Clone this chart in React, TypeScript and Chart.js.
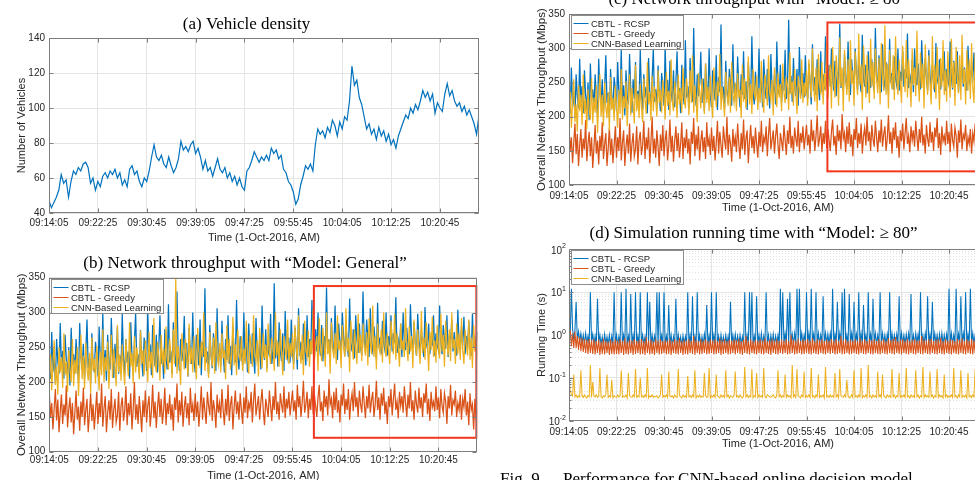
import React, { useEffect, useRef } from 'react';
import { Chart, registerables } from 'chart.js';
Chart.register(...registerables);

// ---------------- DATA ----------------
const VEHICLE_STEP_S = 25;
const FLOW_STEP_S = 12.5;
const TIME_SPAN_S = 4400;
const TIME_TICK_SECONDS = [0, 500, 1000, 1500, 2000, 2500, 3000, 3500, 4000];
const TIME_TICK_LABELS = ['09:14:05', '09:22:25', '09:30:45', '09:39:05', '09:47:25', '09:55:45', '10:04:05', '10:12:25', '10:20:45'];
const X_AXIS_TITLE = 'Time (1-Oct-2016, AM)';
const SERIES_LABELS = ['CBTL - RCSP', 'CBTL - Greedy', 'CNN-Based Learning'];

const VEHICLE_Y_TICKS = [40, 60, 80, 100, 120, 140];
const THROUGHPUT_Y_TICKS = [100, 150, 200, 250, 300, 350];
const RUNTIME_Y_TICKS = [0.01, 0.1, 1, 10, 100];
const RUNTIME_Y_EXPONENTS = ['-2', '-1', '0', '1', '2'];

const HIGHLIGHT_T = [2720, 4390];
const HIGHLIGHT_Y = [120, 338];

const VEHICLE_COUNT = [
  47, 43, 46, 49, 53, 62, 57, 59, 49, 58,
  64, 62, 66, 64, 68, 69, 66, 57, 60, 53,
  58, 55, 61, 63, 60, 64, 62, 65, 60, 63,
  56, 59, 55, 65, 67, 62, 64, 58, 55, 60,
  58, 64, 72, 79, 72, 70, 73, 68, 66, 72,
  67, 63, 66, 71, 81, 76, 78, 75, 79, 81,
  74, 77, 72, 65, 70, 64, 66, 61, 66, 71,
  65, 63, 66, 60, 63, 58, 61, 56, 60, 55,
  53, 64, 66, 70, 75, 72, 69, 72, 70, 73,
  70, 77, 74, 76, 71, 73, 65, 63, 58, 56,
  52, 45, 48, 56, 61, 67, 65, 68, 64, 79,
  88, 85, 87, 83, 89, 86, 93, 90, 84, 92,
  88, 95, 93, 104, 124, 113, 116, 106, 102, 95,
  88, 91, 85, 88, 82, 89, 84, 87, 81, 85,
  79, 82, 77, 84, 88, 92, 96, 94, 100, 97,
  102, 99, 104, 110, 106, 109, 104, 108, 97, 103,
  100, 98, 108, 114, 107, 110, 104, 101, 103, 98,
  101, 96, 99, 95, 91, 85, 96,
];

const THROUGHPUT_RCSP = [
  225, 205, 272, 215, 238, 198, 262, 230, 212, 285, 220, 245, 205, 268, 232, 210, 250, 195, 278, 225,
  240, 212, 262, 228, 200, 285, 236, 218, 255, 205, 242, 290, 220, 235, 198, 270, 228, 214, 258, 240,
  208, 280, 232, 222, 300, 214, 246, 202, 268, 230, 218, 292, 240, 206, 255, 226, 280, 212, 238, 220,
  298, 234, 210, 262, 228, 244, 205, 286, 236, 218, 256, 300, 222, 240, 212, 275, 232, 208, 264, 246,
  216, 302, 230, 254, 210, 282, 238, 222, 268, 214, 250, 296, 226, 242, 205, 276, 234, 218, 312, 228,
  245, 212, 286, 236, 222, 330, 240, 216, 262, 230, 248, 295, 220, 256, 208, 278, 242, 226, 300, 232,
  214, 268, 246, 224, 290, 210, 258, 236, 335, 228, 244, 212, 282, 238, 220, 270, 250, 216, 306, 234,
  248, 222, 288, 240, 214, 262, 232, 296, 226, 252, 210, 280, 244, 228, 318, 236, 218, 266, 242, 224,
  300, 230, 256, 214, 284, 246, 226, 270, 238, 212, 292, 240, 228, 262, 218, 310, 244, 232, 276, 220,
  254, 238, 298, 226, 246, 342, 234, 260, 222, 286, 244, 230, 270, 216, 302, 248, 236, 264, 228, 290,
  242, 226, 278, 252, 218, 306, 238, 258, 232, 284, 246, 224, 296, 236, 262, 240, 318, 250, 234, 276,
  244, 300, 256, 238, 282, 230, 266, 248, 336, 242, 262, 236, 292, 254, 240, 310, 250, 232, 284, 258,
  246, 300, 264, 238, 288, 252, 236, 320, 256, 244, 276, 234, 296, 260, 242, 284, 250, 238, 330, 258,
  248, 290, 262, 236, 306, 254, 244, 280, 258, 234, 314, 250, 264, 240, 288, 256, 246, 300, 238, 266,
  252, 296, 244, 270, 256, 322, 242, 260, 248, 284, 236, 300, 258, 246, 278, 252, 240, 312, 262, 248,
  286, 254, 238, 298, 260, 244, 276, 250, 236, 308, 256, 248, 284, 240, 264, 252, 296, 238, 270, 254,
  246, 310, 258, 240, 282, 262, 248, 296, 236, 268, 254, 290, 244, 272, 250, 238, 304, 256, 246, 280,
  252, 294, 240, 266, 248, 288, 256, 238, 298, 250, 262, 244, 272,
];

const THROUGHPUT_GREEDY = [
  185, 150, 170, 132, 162, 190, 145, 175, 128, 158, 182, 140, 168, 152, 195, 135, 160, 178, 142, 170,
  125, 155, 188, 146, 165, 130, 172, 150, 192, 138, 160, 176, 128, 154, 184, 144, 168, 132, 158, 186,
  140, 170, 150, 198, 136, 162, 180, 128, 156, 174, 146, 190, 134, 160, 176, 142, 152, 186, 130, 166,
  178, 144, 158, 194, 138, 170, 152, 184, 132, 162, 200, 146, 168, 140, 180, 156, 128, 174, 150, 188,
  142, 166, 180, 136, 158, 196, 148, 172, 134, 164, 186, 150, 176, 140, 160, 192, 138, 170, 154, 182,
  146, 168, 130, 178, 160, 198, 142, 174, 152, 186, 136, 164, 180, 148, 170, 138, 192, 156, 168, 144,
  184, 150, 172, 136, 162, 194, 146, 178, 158, 140, 186, 166, 152, 200, 144, 174, 160, 134, 182, 156,
  170, 148, 190, 160, 138, 176, 152, 196, 144, 168, 180, 132, 164, 188, 154, 172, 146, 184, 160, 140,
  178, 156, 194, 148, 170, 162, 186, 142, 174, 198, 152, 166, 180, 146, 172, 190, 158, 138, 176, 164,
  150, 188, 166, 144, 180, 160, 200, 154, 172, 146, 184, 168, 156, 194, 148, 176, 162, 186, 152, 170,
  188, 158, 174, 146, 196, 164, 180, 150, 172, 202, 156, 168, 186, 148, 176, 160, 194, 154, 182, 166,
  150, 178, 196, 158, 172, 144, 188, 164, 180, 152, 204, 168, 176, 148, 186, 160, 192, 156, 174, 142,
  182, 166, 198, 154, 176, 160, 190, 146, 172, 184, 158, 200, 164, 178, 150, 188, 168, 156, 194, 170,
  148, 180, 162, 196, 156, 174, 186, 150, 168, 202, 160, 178, 146, 184, 166, 192, 154, 172, 140, 180,
  164, 190, 152, 176, 198, 160, 172, 148, 186, 166, 180, 156, 194, 170, 150, 182, 162, 200, 158, 174,
  146, 188, 168, 156, 192, 162, 178, 150, 184, 170, 198, 154, 176, 144, 186, 164, 172, 158, 194, 160,
  178, 148, 190, 166, 156, 184, 172, 140, 180, 162, 196, 152, 174, 168, 188, 150, 170, 160, 182, 146,
  176, 164, 190, 152, 172, 138, 184, 160, 168, 132, 176, 150, 158,
];

const THROUGHPUT_CNN_GENERAL = [
  205, 240, 188, 228, 260, 196, 222, 182, 250, 214, 236, 192, 270, 210, 230, 186, 246, 218, 200, 262,
  194, 232, 212, 250, 180, 226, 268, 204, 238, 190, 256, 220, 202, 242, 184, 264, 216, 234, 198, 252,
  222, 188, 244, 210, 276, 200, 236, 216, 258, 190, 230, 268, 206, 248, 224, 194, 282, 214, 240, 202,
  254, 218, 196, 262, 230, 208, 286, 222, 242, 198, 266, 214, 250, 232, 204, 274, 226, 246, 210, 260,
  236, 200, 272, 220, 244, 206, 292, 228, 214, 258, 238, 202, 268, 224, 248, 212, 280, 234, 218, 262,
  240, 206, 276, 226, 350, 212, 252, 230, 196, 270, 244, 218, 262, 236, 208, 284, 226, 250, 214, 266,
  232, 204, 278, 244, 220, 258, 236, 300, 216, 250, 228, 206, 272, 240, 222, 264, 212, 286, 238, 226,
  256, 214, 270, 234, 246, 204, 282, 228, 262, 218, 240, 294, 224, 254, 210, 276, 242, 230, 266, 216,
  248, 226, 288, 236, 212, 268, 250, 222, 296, 240, 230, 260, 208, 278, 246, 220, 270, 234, 254, 214,
  284, 242, 226, 264, 252, 216, 300, 238, 258, 222, 276, 244, 210, 266, 248, 232, 290, 226, 256, 236,
  270, 218, 282, 250, 232, 296, 244, 226, 268, 210, 288, 246, 236, 274, 222, 260, 240, 304, 230, 254,
  266, 216, 292, 248, 230, 278, 256, 222, 300, 240, 262, 212, 286, 250, 234, 270, 226, 296, 246, 260,
  220, 282, 252, 236, 306, 244, 264, 214, 288, 258, 232, 276, 248, 226, 298, 242, 268, 230, 284, 252,
  238, 272, 224, 292, 256, 240, 310, 236, 266, 218, 284, 250, 242, 276, 228, 300, 254, 236, 270, 246,
  226, 288, 262, 240, 298, 232, 270, 250, 222, 284, 246, 260, 236, 306, 252, 230, 280, 244, 266, 220,
  290, 256, 238, 276, 248, 226, 302, 242, 264, 232, 286, 254, 216, 272, 246, 294, 236, 260, 228, 282,
  250, 234, 298, 244, 268, 222, 288, 256, 238, 276, 230, 300, 248, 262, 226, 284, 240, 270, 232, 292,
  246, 226, 276, 254, 238, 290, 232, 264, 220, 282, 244, 258, 236,
];

const THROUGHPUT_CNN_80 = [
  198, 236, 184, 222, 255, 192, 218, 178, 246, 208, 232, 188, 262, 204, 226, 182, 240, 212, 196, 256,
  190, 228, 206, 246, 176, 220, 262, 200, 232, 186, 250, 214, 198, 236, 180, 258, 210, 228, 194, 246,
  216, 184, 240, 204, 270, 196, 230, 212, 252, 186, 226, 262, 202, 242, 218, 190, 276, 208, 234, 198,
  248, 214, 192, 256, 224, 204, 280, 218, 236, 194, 260, 208, 244, 226, 200, 268, 220, 240, 206, 254,
  230, 196, 266, 216, 238, 202, 284, 222, 208, 252, 232, 198, 262, 218, 242, 206, 272, 228, 212, 256,
  234, 202, 268, 220, 290, 206, 246, 224, 192, 264, 238, 212, 256, 230, 204, 278, 220, 244, 208, 260,
  226, 198, 272, 238, 214, 252, 230, 292, 210, 244, 222, 200, 266, 234, 216, 258, 206, 280, 232, 220,
  250, 208, 264, 228, 240, 198, 276, 222, 256, 212, 234, 288, 218, 248, 204, 270, 236, 224, 260, 210,
  242, 220, 282, 230, 206, 262, 244, 216, 290, 234, 224, 254, 202, 272, 240, 214, 264, 228, 248, 208,
  278, 236, 220, 258, 246, 210, 294, 232, 252, 216, 270, 238, 204, 260, 242, 226, 284, 220, 250, 230,
  268, 216, 284, 252, 228, 300, 246, 222, 272, 208, 292, 248, 232, 280, 218, 264, 238, 310, 226, 256,
  276, 212, 302, 254, 228, 290, 262, 216, 316, 244, 272, 208, 298, 256, 232, 284, 222, 312, 248, 268,
  216, 296, 258, 232, 322, 246, 276, 210, 304, 264, 228, 290, 250, 220, 314, 244, 280, 226, 300, 256,
  234, 286, 218, 308, 262, 238, 334, 232, 278, 212, 298, 254, 240, 290, 224, 318, 258, 232, 284, 248,
  220, 304, 268, 236, 312, 228, 284, 252, 214, 300, 246, 272, 230, 326, 256, 222, 294, 242, 278, 212,
  306, 260, 232, 290, 250, 218, 318, 240, 276, 226, 302, 256, 210, 286, 244, 312, 232, 268, 222, 296,
  254, 228, 314, 242, 280, 216, 302, 258, 234, 290, 224, 320, 248, 270, 218, 298, 238, 284, 226, 308,
  244, 220, 292, 256, 232, 306, 228, 276, 214, 298, 240, 266, 230,
];

const RUNTIME_RCSP = [
  1.5, 0.9, 12, 1.4, 0.8, 1.3, 6, 0.75, 1.2, 0.7, 1.1, 0.65, 1.0, 0.6, 1.1, 0.65, 0.95, 0.6, 10, 0.7,
  1.05, 0.6, 0.95, 0.55, 7, 0.65, 1.0, 0.6, 0.9, 0.55, 1.05, 0.62, 0.9, 0.58, 1.0, 0.55, 0.95, 0.6, 10, 0.58,
  1.0, 0.55, 0.92, 0.6, 10, 0.56, 1.0, 0.62, 12, 0.58, 0.95, 0.55, 9, 0.6, 1.0, 0.56, 10, 0.6, 0.95, 0.55,
  10, 0.58, 1.0, 0.6, 0.92, 0.55, 10, 0.62, 6, 0.56, 1.0, 0.58, 0.95, 0.6, 10, 0.55, 10, 0.62, 0.98, 0.58,
  10, 0.56, 0.95, 0.6, 5, 0.58, 1.0, 0.55, 0.92, 0.6, 7, 0.56, 1.02, 0.6, 0.9, 0.55, 0.98, 0.62, 0.92, 0.58,
  10, 0.6, 1.0, 0.56, 8, 0.6, 0.95, 0.58, 10, 0.62, 1.0, 0.56, 0.92, 0.6, 1.05, 0.58, 5, 0.6, 0.98, 0.55,
  10, 0.62, 1.0, 0.58, 10, 0.6, 0.95, 0.56, 1.02, 0.6, 0.9, 0.58, 1.0, 0.6, 0.95, 0.56, 6, 0.62, 1.0, 0.58,
  1.05, 0.6, 0.95, 0.58, 1.0, 0.62, 0.92, 0.56, 10, 0.6, 1.0, 0.58, 10, 0.62, 10, 0.6, 0.95, 0.58, 8, 0.62,
  1.0, 0.6, 1.1, 0.58, 0.95, 0.62, 10, 0.6, 1.0, 0.56, 0.98, 0.6, 1.05, 0.58, 0.95, 0.62, 1.0, 0.58, 12, 0.62,
  10, 0.65, 1.1, 0.6, 7, 0.62, 10, 0.64, 1.05, 0.6, 1.1, 0.62, 12, 0.6, 12, 0.64, 1.1, 0.6, 1.0, 0.65,
  10, 0.62, 1.1, 0.6, 12, 0.64, 1.05, 0.6, 10, 0.62, 1.1, 0.6, 1.0, 0.64, 8, 0.6, 1.1, 0.62, 1.05, 0.6,
  1.1, 0.62, 12, 0.6, 1.05, 0.64, 6, 0.6, 1.1, 0.62, 10, 0.6, 12, 0.64, 1.0, 0.6, 9, 0.62, 1.1, 0.6,
  6, 0.64, 1.05, 0.6, 10, 0.62, 1.1, 0.6, 5, 0.64, 1.0, 0.6, 10, 0.62, 1.05, 0.6, 7, 0.64, 1.1, 0.6,
  1.0, 0.62, 10, 0.6, 1.1, 0.64, 1.0, 0.6, 1.05, 0.62, 10, 0.6, 1.1, 0.64, 1.0, 0.6, 1.05, 0.62, 8, 0.6,
  1.1, 0.62, 1.0, 0.6, 1.05, 0.64, 1.1, 0.6, 9, 0.62, 1.0, 0.6, 1.1, 0.64, 1.05, 0.6, 10, 0.62, 1.0, 0.6,
  1.1, 0.64, 8, 0.6, 1.05, 0.62, 6, 0.6, 1.1, 0.64, 1.0, 0.6, 1.05, 0.62, 1.1, 0.6, 1.0, 0.64, 1.05, 0.6,
  12, 0.62, 1.1, 0.6, 1.0, 0.64, 12, 0.6, 1.05, 0.62, 8, 0.6, 1.1, 0.64, 10, 0.6, 1.05, 0.62, 12, 0.6,
  1.1, 0.64, 1.0, 0.6, 1.05, 0.62, 1.1, 0.6, 1.0, 0.64, 1.05, 0.6, 1.1,
];

const RUNTIME_GREEDY = [
  0.75, 1.3, 0.55, 1.1, 0.5, 1.2, 0.5, 0.95, 0.45, 0.9, 0.42, 0.85, 0.4, 0.8, 0.38, 0.78, 0.36, 0.8, 0.38, 0.75,
  0.36, 0.8, 0.35, 0.72, 0.38, 0.78, 0.34, 0.7, 0.36, 0.82, 0.35, 0.74, 0.38, 0.7, 0.34, 0.78, 0.36, 0.72, 0.35, 0.8,
  0.36, 0.74, 0.35, 0.8, 0.38, 0.72, 0.34, 0.85, 0.36, 0.7, 0.35, 0.78, 0.38, 0.74, 0.34, 0.8, 0.36, 0.72, 0.38, 0.76,
  0.35, 0.8, 0.36, 0.72, 0.34, 0.9, 0.38, 0.74, 0.35, 0.78, 0.36, 0.7, 0.34, 0.82, 0.38, 0.74, 0.35, 0.8, 0.36, 0.72,
  0.38, 0.78, 0.35, 0.74, 0.36, 0.82, 0.34, 0.72, 0.38, 0.8, 0.36, 0.74, 0.35, 0.86, 0.38, 0.72, 0.34, 0.78, 0.36, 0.74,
  0.35, 0.8, 0.38, 0.72, 0.36, 0.95, 0.34, 0.76, 0.38, 0.72, 0.35, 0.8, 0.36, 0.74, 0.38, 0.82, 0.35, 0.72, 0.36, 0.78,
  0.38, 0.74, 0.35, 0.8, 0.36, 0.72, 0.38, 0.85, 0.34, 0.76, 0.36, 0.8, 0.38, 0.72, 0.35, 0.78, 0.36, 0.74, 0.38, 0.8,
  0.35, 0.76, 0.38, 0.82, 0.36, 0.72, 0.34, 0.78, 0.38, 0.95, 0.36, 0.74, 0.35, 0.8, 0.38, 0.72, 0.36, 0.78, 0.35, 0.74,
  0.38, 0.8, 0.36, 0.74, 0.35, 0.86, 0.38, 0.72, 0.36, 0.78, 0.34, 0.82, 0.38, 0.74, 0.36, 0.8, 0.35, 0.72, 0.38, 0.78,
  0.36, 0.74, 0.38, 0.8, 0.35, 0.72, 0.36, 1.0, 0.38, 0.78, 0.35, 0.74, 0.36, 0.82, 0.38, 0.72, 0.35, 0.8, 0.36, 0.76,
  0.38, 0.8, 0.36, 0.74, 0.35, 0.85, 0.38, 0.72, 0.36, 0.8, 0.35, 0.76, 0.38, 0.82, 0.36, 0.72, 0.35, 0.78, 0.38, 0.74,
  0.36, 0.8, 0.38, 0.74, 0.35, 0.82, 0.36, 0.72, 0.38, 0.95, 0.35, 0.76, 0.36, 0.8, 0.38, 0.72, 0.35, 0.78, 0.36, 0.74,
  0.38, 0.8, 0.36, 0.72, 0.35, 0.86, 0.38, 0.74, 0.36, 0.8, 0.35, 0.72, 0.38, 0.82, 0.36, 0.76, 0.35, 0.8, 0.38, 0.72,
  0.36, 0.82, 0.35, 0.74, 0.38, 0.8, 0.36, 0.72, 0.35, 0.85, 0.38, 0.76, 0.36, 0.8, 0.35, 0.9, 0.38, 0.72, 0.36, 0.78,
  0.35, 0.8, 0.38, 0.74, 0.36, 0.82, 0.35, 0.72, 0.38, 0.78, 0.36, 0.8, 0.35, 0.74, 0.38, 0.76, 0.36, 0.95, 0.35, 0.78,
  0.38, 0.74, 0.36, 0.8, 0.35, 0.82, 0.38, 0.72, 0.36, 0.78, 0.35, 0.8, 0.38, 0.86, 0.36, 0.72, 0.35, 0.8, 0.38, 0.74,
  0.36, 0.8, 0.35, 0.76, 0.38, 0.72, 0.36, 0.82, 0.35, 0.78, 0.38, 0.84, 0.36, 0.72, 0.35, 0.8, 0.38, 0.74, 0.36, 0.8,
  0.35, 0.76, 0.38, 0.8, 0.36, 0.72, 0.35, 0.82, 0.38, 0.74, 0.36, 0.8, 0.38,
];

const RUNTIME_CNN = [
  0.1, 0.05, 0.042, 0.038, 0.12, 0.036, 0.04, 0.035, 0.038, 0.036, 0.15, 0.038, 0.035, 0.04, 0.036, 0.034, 0.038, 0.036, 0.2, 0.035,
  0.08, 0.038, 0.036, 0.04, 0.035, 0.037, 0.17, 0.036, 0.034, 0.038, 0.036, 0.04, 0.12, 0.035, 0.038, 0.036, 0.09, 0.034, 0.038, 0.036,
  0.035, 0.04, 0.036, 0.038, 0.15, 0.035, 0.037, 0.036, 0.04, 0.034, 0.13, 0.038, 0.036, 0.035, 0.04, 0.036, 0.16, 0.035, 0.038, 0.036,
  0.1, 0.036, 0.038, 0.035, 0.04, 0.036, 0.17, 0.034, 0.038, 0.036, 0.04, 0.035, 0.037, 0.036, 0.038, 0.034, 0.036, 0.04, 0.12, 0.035,
  0.038, 0.036, 0.04, 0.035, 0.14, 0.037, 0.036, 0.038, 0.034, 0.04, 0.036, 0.035, 0.16, 0.038, 0.036, 0.034, 0.04, 0.036, 0.038, 0.035,
  0.11, 0.036, 0.038, 0.035, 0.04, 0.036, 0.15, 0.034, 0.038, 0.036, 0.04, 0.035, 0.037, 0.036, 0.13, 0.038, 0.035, 0.036, 0.17, 0.034,
  0.038, 0.036, 0.04, 0.035, 0.12, 0.038, 0.036, 0.034, 0.04, 0.036, 0.038, 0.035, 0.15, 0.036, 0.04, 0.034, 0.038, 0.036, 0.035, 0.04,
  0.14, 0.036, 0.038, 0.035, 0.04, 0.036, 0.034, 0.038, 0.18, 0.036, 0.04, 0.035, 0.038, 0.036, 0.16, 0.034, 0.038, 0.036, 0.13, 0.035,
  0.04, 0.036, 0.038, 0.035, 0.17, 0.036, 0.034, 0.04, 0.038, 0.036, 0.035, 0.038, 0.04, 0.036, 0.034, 0.038, 0.15, 0.036, 0.04, 0.035,
  0.038, 0.036, 0.12, 0.035, 0.04, 0.036, 0.038, 0.034, 0.2, 0.036, 0.04, 0.035, 0.16, 0.038, 0.036, 0.034, 0.04, 0.036, 0.14, 0.035,
  0.038, 0.036, 0.04, 0.035, 0.17, 0.036, 0.038, 0.034, 0.04, 0.036, 0.12, 0.035, 0.038, 0.036, 0.04, 0.034, 0.18, 0.036, 0.038, 0.035,
  0.04, 0.036, 0.038, 0.035, 0.13, 0.036, 0.04, 0.034, 0.16, 0.038, 0.036, 0.035, 0.04, 0.036, 0.09, 0.038, 0.034, 0.036, 0.04, 0.035,
  0.15, 0.036, 0.038, 0.035, 0.04, 0.036, 0.17, 0.034, 0.038, 0.036, 0.04, 0.035, 0.2, 0.036, 0.038, 0.034, 0.04, 0.036, 0.038, 0.035,
  0.14, 0.036, 0.04, 0.035, 0.12, 0.038, 0.036, 0.034, 0.04, 0.036, 0.038, 0.035, 0.16, 0.036, 0.04, 0.034, 0.038, 0.036, 0.13, 0.035,
  0.038, 0.036, 0.04, 0.035, 0.17, 0.036, 0.038, 0.034, 0.04, 0.036, 0.038, 0.035, 0.15, 0.036, 0.04, 0.034, 0.038, 0.036, 0.18, 0.035,
  0.04, 0.036, 0.038, 0.035, 0.14, 0.036, 0.04, 0.034, 0.038, 0.036, 0.16, 0.035, 0.04, 0.036, 0.038, 0.034, 0.12, 0.036, 0.04, 0.035,
  0.038, 0.036, 0.04, 0.035, 0.17, 0.036, 0.038, 0.034, 0.04, 0.036, 0.15, 0.035, 0.038, 0.036, 0.04, 0.034, 0.13, 0.036, 0.038, 0.035,
  0.04, 0.036, 0.16, 0.035, 0.038, 0.036, 0.04, 0.034, 0.038, 0.036, 0.04, 0.035, 0.038,
];

// ---------------- STYLE ----------------
const SANS = '"Liberation Sans", Arial, Helvetica, sans-serif';
const SERIF = '"Liberation Serif", "Times New Roman", serif';
const BLUE = '#0072BD';
const ORANGE = '#D95319';
const YELLOW = '#EDB120';
const RED = '#F2361F';
const GRID_COLOR = '#e4e4e4';
const MINOR_GRID_COLOR = '#e2e2e2';
const AXIS_COLOR = '#7d7d7d';
const TEXT_COLOR = '#262626';
const TICK_LEN = 4;

type Series = { label: string; values: number[]; step: number; color: string; width: number; order: number };
type PanelCfg = {
  left: number; top: number; width: number; height: number;
  padTop: number; padRight: number; yWidth: number; xHeight: number;
  title: string; titleX: number; titleBaseline: number;
  yTitle: string; yTitleSize: number; xTitleOffset: number; xTickPad: number;
  yMin: number; yMax: number; yTicks: number[]; log: boolean;
  series: Series[]; legend: boolean; highlight: boolean;
};

const threeSeries = (rcsp: number[], greedy: number[], cnn: number[], width: number): Series[] => [
  { label: SERIES_LABELS[0], values: rcsp, step: FLOW_STEP_S, color: BLUE, width, order: 2 },
  { label: SERIES_LABELS[1], values: greedy, step: FLOW_STEP_S, color: ORANGE, width, order: 1 },
  { label: SERIES_LABELS[2], values: cnn, step: FLOW_STEP_S, color: YELLOW, width, order: 0 },
];

const PANELS: PanelCfg[] = [
  {
    left: 0, top: 0, width: 490, height: 250, padTop: 38, padRight: 11, yWidth: 49, xHeight: 37,
    title: '(a) Vehicle density', titleX: 246.5, titleBaseline: 28.5,
    yTitle: 'Number of Vehicles', yTitleSize: 11, xTitleOffset: 28, xTickPad: 4,
    yMin: 40, yMax: 140, yTicks: VEHICLE_Y_TICKS, log: false,
    series: [{ label: 'Vehicles', values: VEHICLE_COUNT, step: VEHICLE_STEP_S, color: BLUE, width: 1.2, order: 0 }],
    legend: false, highlight: false,
  },
  {
    left: 0, top: 240, width: 490, height: 245, padTop: 37.7, padRight: 12.7, yWidth: 49.3, xHeight: 33.3,
    title: '(b) Network throughput with \u201cModel: General\u201d', titleX: 245, titleBaseline: 28.3,
    yTitle: 'Overall Network Throughput (Mbps)', yTitleSize: 11.5, xTitleOffset: 27, xTickPad: 3,
    yMin: 100, yMax: 350, yTicks: THROUGHPUT_Y_TICKS, log: false,
    series: threeSeries(THROUGHPUT_RCSP, THROUGHPUT_GREEDY, THROUGHPUT_CNN_GENERAL, 1.25), legend: true, highlight: true,
  },
  {
    left: 490, top: 0, width: 510, height: 225, padTop: 14.3, padRight: 13, yWidth: 79, xHeight: 40,
    title: '(c) Network throughput with \u201cModel: \u2265 80\u201d', titleX: 268, titleBaseline: 4,
    yTitle: 'Overall Network Throughput (Mbps)', yTitleSize: 11.5, xTitleOffset: 26.2, xTickPad: 5,
    yMin: 100, yMax: 350, yTicks: THROUGHPUT_Y_TICKS, log: false,
    series: threeSeries(THROUGHPUT_RCSP, THROUGHPUT_GREEDY, THROUGHPUT_CNN_80, 1.25), legend: true, highlight: true,
  },
  {
    left: 490, top: 215, width: 510, height: 265, padTop: 34.3, padRight: 13, yWidth: 79, xHeight: 59.3,
    title: '(d) Simulation running time with \u201cModel: \u2265 80\u201d', titleX: 263.5, titleBaseline: 23,
    yTitle: 'Running Time (s)', yTitleSize: 11, xTitleOffset: 26.3, xTickPad: 6,
    yMin: 0.01, yMax: 100, yTicks: RUNTIME_Y_TICKS, log: true,
    series: threeSeries(RUNTIME_RCSP, RUNTIME_GREEDY, RUNTIME_CNN, 1.05),
    legend: true, highlight: false,
  },
];

function decorPlugin(p: PanelCfg) {
  return {
    id: 'decor',
    beforeDatasetsDraw(chart: any) {
      if (!p.log) return;
      const { ctx, chartArea: a } = chart;
      const ys = chart.scales.y;
      ctx.save();
      ctx.strokeStyle = MINOR_GRID_COLOR;
      ctx.lineWidth = 1;
      ctx.setLineDash([1, 2]);
      for (let d = 0; d < p.yTicks.length - 1; d++) {
        for (let m = 2; m <= 9; m++) {
          const py = Math.round(ys.getPixelForValue(p.yTicks[d] * m)) + 0.5;
          ctx.beginPath();
          ctx.moveTo(a.left, py);
          ctx.lineTo(a.right, py);
          ctx.stroke();
        }
      }
      ctx.restore();
    },
    afterDatasetsDraw(chart: any) {
      const { ctx, chartArea: a } = chart;
      const xs = chart.scales.x;
      const ys = chart.scales.y;
      ctx.save();
      if (p.highlight) {
        const x0 = xs.getPixelForValue(HIGHLIGHT_T[0]);
        const x1 = xs.getPixelForValue(HIGHLIGHT_T[1]);
        const y0 = ys.getPixelForValue(HIGHLIGHT_Y[1]);
        const y1 = ys.getPixelForValue(HIGHLIGHT_Y[0]);
        ctx.strokeStyle = RED;
        ctx.lineWidth = 2;
        ctx.strokeRect(x0, y0, x1 - x0, y1 - y0);
      }
      const L = Math.round(a.left) + 0.5;
      const R = Math.round(a.right) - 0.5;
      const T = Math.round(a.top) + 0.5;
      const B = Math.round(a.bottom) - 0.5;
      ctx.strokeStyle = AXIS_COLOR;
      ctx.lineWidth = 1;
      ctx.strokeRect(L, T, R - L, B - T);
      ctx.beginPath();
      for (const v of TIME_TICK_SECONDS) {
        const px = Math.round(xs.getPixelForValue(v)) + 0.5;
        ctx.moveTo(px, B); ctx.lineTo(px, B - TICK_LEN);
        ctx.moveTo(px, T); ctx.lineTo(px, T + TICK_LEN);
      }
      for (const v of p.yTicks) {
        const py = Math.round(ys.getPixelForValue(v)) + 0.5;
        ctx.moveTo(L, py); ctx.lineTo(L + TICK_LEN, py);
        ctx.moveTo(R, py); ctx.lineTo(R - TICK_LEN, py);
      }
      if (p.log) {
        for (let d = 0; d < p.yTicks.length - 1; d++) {
          for (let m = 2; m <= 9; m++) {
            const py = Math.round(ys.getPixelForValue(p.yTicks[d] * m)) + 0.5;
            ctx.moveTo(L, py); ctx.lineTo(L + 2, py);
            ctx.moveTo(R, py); ctx.lineTo(R - 2, py);
          }
        }
      }
      ctx.stroke();
      ctx.restore();
    },
    afterDraw(chart: any) {
      const { ctx, chartArea: a } = chart;
      const ys = chart.scales.y;
      ctx.save();
      if (p.legend) {
        ctx.font = `9.5px ${SANS}`;
        const textW = Math.max(...p.series.map((s) => ctx.measureText(s.label).width));
        const bx = Math.round(a.left) + 2.5;
        const by = Math.round(a.top) + 1.5;
        const bw = Math.round(20 + textW + 2);
        const bh = 34;
        ctx.fillStyle = '#ffffff';
        ctx.fillRect(bx, by, bw, bh);
        ctx.strokeStyle = '#8c8c8c';
        ctx.lineWidth = 1;
        ctx.strokeRect(bx, by, bw, bh);
        p.series.forEach((s, i) => {
          const cy = Math.round(by + 7 + i * 10.3) + 0.5;
          ctx.strokeStyle = s.color;
          ctx.lineWidth = 1;
          ctx.beginPath();
          ctx.moveTo(bx + 2, cy);
          ctx.lineTo(bx + 17, cy);
          ctx.stroke();
          ctx.fillStyle = TEXT_COLOR;
          ctx.textAlign = 'left';
          ctx.textBaseline = 'middle';
          ctx.fillText(s.label, bx + 19.5, cy + 0.5);
        });
      }
      if (p.log) {
        ctx.fillStyle = TEXT_COLOR;
        ctx.textBaseline = 'middle';
        ctx.textAlign = 'left';
        p.yTicks.forEach((v, i) => {
          const py = ys.getPixelForValue(v);
          const exp = RUNTIME_Y_EXPONENTS[i];
          ctx.font = `7px ${SANS}`;
          const we = ctx.measureText(exp).width;
          ctx.font = `10px ${SANS}`;
          const wb = ctx.measureText('10').width;
          const right = a.left - 3;
          ctx.fillText('10', right - we - wb, py + 1.5);
          ctx.font = `7px ${SANS}`;
          ctx.fillText(exp, right - we, py - 3);
        });
      }
      ctx.fillStyle = '#000000';
      ctx.font = `17px ${SERIF}`;
      ctx.textAlign = 'center';
      ctx.textBaseline = 'alphabetic';
      ctx.fillText(p.title, p.titleX, p.titleBaseline);
      ctx.fillStyle = TEXT_COLOR;
      ctx.font = `11px ${SANS}`;
      ctx.fillText(X_AXIS_TITLE, (a.left + a.right) / 2, a.bottom + p.xTitleOffset);
      ctx.translate(a.left - 27, (a.top + a.bottom) / 2);
      ctx.rotate(-Math.PI / 2);
      ctx.font = `${p.yTitleSize}px ${SANS}`;
      ctx.textBaseline = 'middle';
      ctx.fillText(p.yTitle, 0, 0);
      ctx.restore();
    },
  };
}

function buildConfig(p: PanelCfg): any {
  return {
    type: 'line',
    data: {
      datasets: p.series.map((s) => ({
        label: s.label,
        data: s.values.map((v, i) => ({ x: i * s.step, y: v })),
        borderColor: s.color,
        backgroundColor: s.color,
        borderWidth: s.width,
        pointRadius: 0,
        tension: 0,
        fill: false,
        order: s.order,
      })),
    },
    options: {
      animation: false,
      responsive: false,
      maintainAspectRatio: false,
      devicePixelRatio: 1,
      events: [],
      layout: { padding: { top: p.padTop, right: p.padRight, left: 0, bottom: 0 } },
      plugins: { legend: { display: false }, tooltip: { enabled: false }, title: { display: false } },
      scales: {
        x: {
          type: 'linear',
          min: 0,
          max: TIME_SPAN_S,
          afterBuildTicks: (ax: any) => { ax.ticks = TIME_TICK_SECONDS.map((value) => ({ value })); },
          afterFit: (s: any) => { s.height = p.xHeight; },
          ticks: {
            callback: (_v: any, i: number) => TIME_TICK_LABELS[i],
            font: { family: SANS, size: 10 },
            color: TEXT_COLOR,
            padding: p.xTickPad,
            maxRotation: 0,
            minRotation: 0,
            autoSkip: false,
          },
          grid: { color: GRID_COLOR, drawTicks: false, lineWidth: 1 },
          border: { display: false },
        },
        y: {
          type: p.log ? 'logarithmic' : 'linear',
          min: p.yMin,
          max: p.yMax,
          afterBuildTicks: (ax: any) => { ax.ticks = p.yTicks.map((value) => ({ value })); },
          afterFit: (s: any) => { s.width = p.yWidth; },
          ticks: {
            display: !p.log,
            callback: (v: any) => String(v),
            font: { family: SANS, size: 10 },
            color: TEXT_COLOR,
            padding: 4,
            autoSkip: false,
          },
          grid: { color: GRID_COLOR, drawTicks: false, lineWidth: 1 },
          border: { display: false },
        },
      },
    },
    plugins: [decorPlugin(p)],
  };
}

function Panel({ cfg }: { cfg: PanelCfg }) {
  const ref = useRef<HTMLCanvasElement | null>(null);
  useEffect(() => {
    if (!ref.current) return;
    const chart = new Chart(ref.current, buildConfig(cfg));
    return () => chart.destroy();
  }, [cfg]);
  return (
    <canvas
      ref={ref}
      width={cfg.width}
      height={cfg.height}
      style={{ position: 'absolute', left: cfg.left, top: cfg.top, width: cfg.width, height: cfg.height }}
    />
  );
}

export default function App() {
  return (
    <div style={{ position: 'fixed', left: 0, top: 0, width: 975, height: 480, overflow: 'hidden', background: '#ffffff' }}>
      {PANELS.map((p, i) => <Panel key={i} cfg={p} />)}
      <div style={{ position: 'absolute', left: 500, top: 470, fontFamily: SERIF, fontSize: 17, lineHeight: '17px', whiteSpace: 'pre', color: '#000' }}>
        Fig. 9.<span style={{ marginLeft: 19 }}>Performance for CNN-based online decision model.</span>
      </div>
    </div>
  );
}
